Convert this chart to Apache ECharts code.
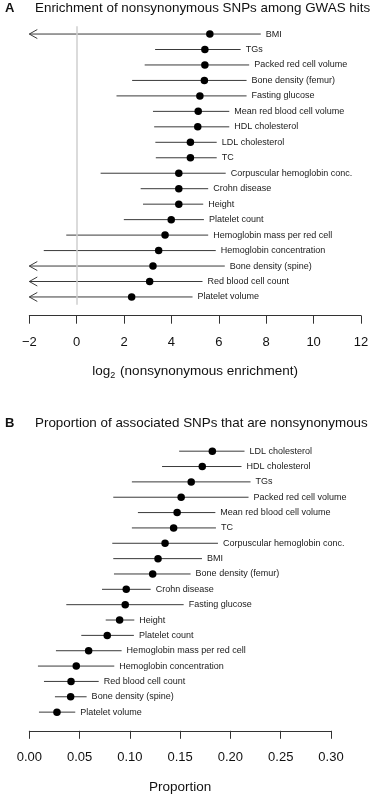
<!DOCTYPE html>
<html>
<head>
<meta charset="utf-8">
<script src="https://cdn.jsdelivr.net/npm/echarts@6/dist/echarts.min.js"></script>
<style>
  html, body { margin: 0; padding: 0; background: #fff; }
  #chart { width: 374px; height: 796px; }
</style>
</head>
<body>
<div id="chart"></div>
<script>
// Panel A: log2 enrichment (null lower bound = off the axis, drawn as arrow)
const enrichTraits = [
  'BMI', 'TGs', 'Packed red cell volume', 'Bone density (femur)', 'Fasting glucose',
  'Mean red blood cell volume', 'HDL cholesterol', 'LDL cholesterol', 'TC',
  'Corpuscular hemoglobin conc.', 'Crohn disease', 'Height', 'Platelet count',
  'Hemoglobin mass per red cell', 'Hemoglobin concentration', 'Bone density (spine)',
  'Red blood cell count', 'Platelet volume'
]
const enrichEst  = [5.62, 5.41, 5.41, 5.39, 5.20, 5.13, 5.11, 4.80, 4.80, 4.31, 4.31, 4.31, 3.99, 3.73, 3.46, 3.22, 3.08, 2.32]
const enrichLow  = [null, 3.31, 2.87, 2.34, 1.68, 3.22, 3.27, 3.32, 3.34, 1.01, 2.70, 2.80, 1.99, -0.44, -1.39, null, null, null]
const enrichHigh = [7.77, 6.92, 7.28, 7.17, 7.17, 6.44, 6.44, 5.91, 5.91, 6.29, 5.55, 5.34, 5.37, 5.55, 5.87, 6.25, 5.31, 4.89]

// Panel B: proportion nonsynonymous
const propTraits = [
  'LDL cholesterol', 'HDL cholesterol', 'TGs', 'Packed red cell volume',
  'Mean red blood cell volume', 'TC', 'Corpuscular hemoglobin conc.', 'BMI',
  'Bone density (femur)', 'Crohn disease', 'Fasting glucose', 'Height', 'Platelet count',
  'Hemoglobin mass per red cell', 'Hemoglobin concentration', 'Red blood cell count',
  'Bone density (spine)', 'Platelet volume'
]
const propEst  = [0.182, 0.172, 0.161, 0.151, 0.147, 0.1435, 0.135, 0.128, 0.1227, 0.0964, 0.0954, 0.0898, 0.0775, 0.059, 0.0467, 0.0415, 0.0411, 0.0275]
const propLow  = [0.149, 0.132, 0.102, 0.0835, 0.108, 0.102, 0.0825, 0.0835, 0.0842, 0.0723, 0.0368, 0.076, 0.0517, 0.0265, 0.0086, 0.0146, 0.0255, 0.0096]
const propHigh = [0.214, 0.211, 0.220, 0.218, 0.185, 0.1856, 0.1876, 0.1717, 0.1604, 0.1207, 0.1535, 0.1044, 0.104, 0.0918, 0.0845, 0.069, 0.057, 0.0457]

const enrichTicks = { min: -2, max: 12, interval: 2 }
const propTicks = { min: 0, max: 0.3, interval: 0.05 }

const FONT = '"Liberation Sans", Arial, sans-serif'
const LINE = '#3a3a3a'

const chart = echarts.init(document.getElementById('chart'))

function makeErrRender(axisMin) {
  return function (params, api) {
    const cat = api.value(0)
    const low = api.value(1)
    const high = api.value(3)
    const offScale = isNaN(low) || low === null
    const left = api.coord([offScale ? axisMin : low, cat])
    const right = api.coord([high, cat])
    const children = [{
      type: 'line',
      shape: { x1: left[0], y1: left[1], x2: right[0], y2: right[1] },
      style: { stroke: LINE, lineWidth: 1 }
    }, {
      type: 'text',
      style: {
        x: right[0] + 5, y: right[1],
        text: api.value(4),
        fill: '#1a1a1a',
        font: '9px ' + FONT,
        verticalAlign: 'middle',
        align: 'left'
      }
    }]
    if (offScale) {
      children.push({
        type: 'polyline',
        shape: { points: [[left[0] + 8, left[1] - 4.5], [left[0], left[1]], [left[0] + 8, left[1] + 4.5]] },
        style: { stroke: LINE, lineWidth: 1, fill: null }
      })
    }
    return { type: 'group', children }
  }
}

const enrichRows = enrichTraits.map((t, i) => [i, enrichLow[i] === null ? NaN : enrichLow[i], enrichEst[i], enrichHigh[i], t])
const propRows = propTraits.map((t, i) => [i, propLow[i], propEst[i], propHigh[i], t])

const axisCommon = {
  type: 'value',
  nameLocation: 'middle',
  nameGap: 48,
  nameTextStyle: { fontSize: 13.5, color: '#111', fontFamily: FONT },
  offset: 11,
  splitLine: { show: false },
  axisLine: { show: true, lineStyle: { color: '#333', width: 1 } },
  axisTick: { show: true, length: 8, lineStyle: { color: '#333', width: 1 } },
  axisLabel: { fontSize: 13, color: '#111', fontFamily: FONT, margin: 20 }
}

const option = {
  animation: false,
  textStyle: { fontFamily: FONT },
  title: [
    { text: 'A', left: 5, top: 2, padding: 0, textStyle: { fontSize: 13, fontWeight: 'bold', color: '#111' } },
    { text: 'Enrichment of nonsynonymous SNPs among GWAS hits', left: 35, top: 2, padding: 0, textStyle: { fontSize: 13.4, fontWeight: 'normal', color: '#111' } },
    { text: 'B', left: 5, top: 417, padding: 0, textStyle: { fontSize: 13, fontWeight: 'bold', color: '#111' } },
    { text: 'Proportion of associated SNPs that are nonsynonymous', left: 35, top: 417, padding: 0, textStyle: { fontSize: 13.4, fontWeight: 'normal', color: '#111' } }
  ],
  grid: [
    { left: 29.3, width: 331.7, top: 26.3, height: 278.4 },
    { left: 29.3, width: 301.7, top: 443.5, height: 276.3 }
  ],
  xAxis: [
    Object.assign({}, axisCommon, enrichTicks, {
      gridIndex: 0,
      name: 'log{s|2} (nonsynonymous enrichment)',
      nameTextStyle: {
        fontSize: 13.5, color: '#111', fontFamily: FONT,
        rich: { s: { fontSize: 9, color: '#111', padding: [7, 1, 0, 0] } }
      },
      axisLabel: Object.assign({}, axisCommon.axisLabel, {
        formatter: v => (v < 0 ? '\u2212' + Math.abs(v) : String(v))
      })
    }),
    Object.assign({}, axisCommon, propTicks, {
      gridIndex: 1,
      name: 'Proportion',
      nameGap: 49,
      axisLabel: Object.assign({}, axisCommon.axisLabel, {
        formatter: v => v.toFixed(2)
      })
    })
  ],
  yAxis: [
    { type: 'category', gridIndex: 0, data: enrichTraits, inverse: true, show: false },
    { type: 'category', gridIndex: 1, data: propTraits, inverse: true, show: false }
  ],
  series: [
    {
      type: 'custom',
      xAxisIndex: 0, yAxisIndex: 0,
      encode: { x: [1, 2, 3], y: 0 },
      renderItem: makeErrRender(enrichTicks.min),
      data: enrichRows,
      z: 2,
      markLine: {
        silent: true,
        symbol: 'none',
        label: { show: false },
        lineStyle: { color: '#cfcfcf', width: 1.5, type: 'solid' },
        data: [{ xAxis: 0 }]
      }
    },
    {
      type: 'scatter',
      xAxisIndex: 0, yAxisIndex: 0,
      symbolSize: 7.5,
      itemStyle: { color: '#000', opacity: 1 },
      data: enrichEst.map((v, i) => [v, i]),
      z: 3
    },
    {
      type: 'custom',
      xAxisIndex: 1, yAxisIndex: 1,
      encode: { x: [1, 2, 3], y: 0 },
      renderItem: makeErrRender(propTicks.min),
      data: propRows,
      z: 2
    },
    {
      type: 'scatter',
      xAxisIndex: 1, yAxisIndex: 1,
      symbolSize: 7.5,
      itemStyle: { color: '#000', opacity: 1 },
      data: propEst.map((v, i) => [v, i]),
      z: 3
    }
  ]
}

chart.setOption(option)
</script>
</body>
</html>
